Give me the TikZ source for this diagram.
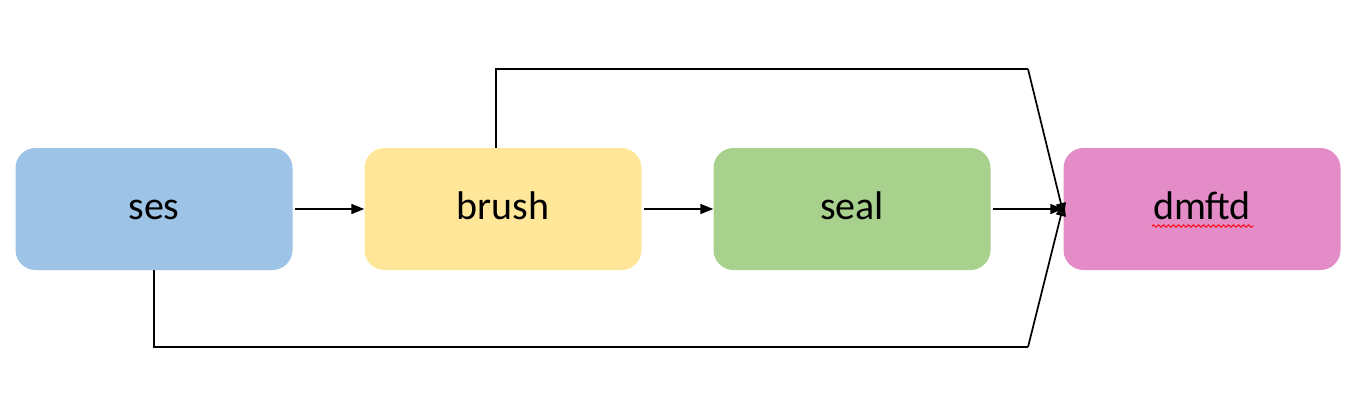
\documentclass[tikz,border=0pt]{standalone}
\usepackage{fontspec}
\setmainfont{Carlito}
\usetikzlibrary{arrows.meta,decorations.pathmorphing}
\definecolor{cblue}{HTML}{9DC3E6}
\definecolor{cyellow}{HTML}{FFE699}
\definecolor{cgreen}{HTML}{A9D18E}
\definecolor{cpink}{HTML}{E48CC8}
\tikzset{
  stagebox/.style={rounded corners=20pt, minimum width=277pt, minimum height=122pt, inner sep=0pt, text height=28pt, text depth=8pt, font=\fontsize{40}{44}\selectfont, text=black},
  conn/.style={line width=1.7pt, -{Triangle[length=13pt,width=10pt]}},
  plain/.style={line width=1.7pt}
}
\begin{document}
\begin{tikzpicture}[x=1pt,y=-1pt]
\useasboundingbox (0,0) rectangle (1360,410);
\node[stagebox, fill=cblue] (ses) at (154,209) {ses};
\node[stagebox, fill=cyellow] (brush) at (503,209) {brush};
\node[stagebox, fill=cgreen] (seal) at (852,209) {seal};
\node[stagebox, fill=cpink] (dmftd) at (1202,209) {dmftd};
\coordinate (t1) at (496,69);
\coordinate (t2) at (1028,69);
\coordinate (b1) at (154,347);
\coordinate (b2) at (1028,347);
\coordinate (tipT) at (1064,216);
\coordinate (tipB) at (1064,203);
\draw[conn] (ses.east) ++(2,0) -- (brush.west);
\draw[conn] (brush.east) ++(2,0) -- (seal.west);
\draw[conn] (seal.east) ++(2,0) -- (dmftd.west);
\draw[plain] (brush.north -| t1) -- (t1) -- (t2);
\draw[conn] (t2) -- (tipT);
\draw[plain] (ses.south) -- (b1) -- (b2);
\draw[conn] (b2) -- (tipB);
\draw[red, line width=0.9pt, decorate, decoration={snake, amplitude=1.2pt, segment length=5pt}] (1152,226) -- (1254,226);
\end{tikzpicture}
\end{document}
